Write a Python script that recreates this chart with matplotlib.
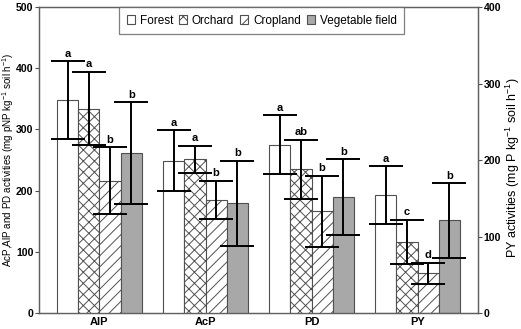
import numpy as np
import matplotlib
matplotlib.use("Agg")
import matplotlib.pyplot as plt

plt.rcParams['font.family'] = ['Liberation Sans', 'DejaVu Sans']
plt.rcParams['mathtext.fontset'] = 'custom'
plt.rcParams['mathtext.rm'] = 'Liberation Sans'

# enzyme groups and land uses
enzymes = ['AlP', 'AcP', 'PD', 'PY']
land_uses = ['Forest', 'Orchard', 'Cropland', 'Vegetable field']

# AlP, AcP, PD on left axis (mg pNP kg-1 soil h-1), rows = land use
left_means = {
    'Forest':          [348, 249, 275],
    'Orchard':         [334, 251, 235],
    'Cropland':        [216, 185, 166],
    'Vegetable field': [261, 179, 189],
}
left_sd = {
    'Forest':          [63, 50, 48],
    'Orchard':         [60, 22, 48],
    'Cropland':        [55, 31, 58],
    'Vegetable field': [83, 70, 62],
}
# PY on right axis (mg P kg-1 soil h-1)
py_means = [154, 93, 52, 121]
py_sd = [38, 29, 14, 49]

letters = {
    'Forest':          ['a', 'a', 'a', 'a'],
    'Orchard':         ['a', 'a', 'ab', 'c'],
    'Cropland':        ['b', 'b', 'b', 'd'],
    'Vegetable field': ['b', 'b', 'b', 'b'],
}

styles = {
    'Forest':          dict(facecolor='white', hatch=None),
    'Orchard':         dict(facecolor='white', hatch='xxx'),
    'Cropland':        dict(facecolor='white', hatch='///'),
    'Vegetable field': dict(facecolor='#a8a8a8', hatch=None),
}

plt.rcParams['hatch.linewidth'] = 0.7
edge = '#505050'

fig = plt.figure(figsize=(5.21, 3.29), dpi=100)
ax = fig.add_axes([0.0749, 0.0486, 0.8426, 0.9301])
ax2 = ax.twinx()

x = np.arange(len(enzymes))
w = 0.2
handles = []
for i, lu in enumerate(land_uses):
    xpos = x - 0.3 + i * w
    st = styles[lu]
    b = ax.bar(xpos[:3], left_means[lu], w, color=st['facecolor'], hatch=st['hatch'],
               edgecolor=edge, linewidth=0.8, label=lu, zorder=2)
    ax.errorbar(xpos[:3], left_means[lu], yerr=left_sd[lu], fmt='none', ecolor='black',
                elinewidth=1.4, capsize=12, capthick=1.4, zorder=3)
    ax2.bar(xpos[3], py_means[i], w, color=st['facecolor'], hatch=st['hatch'],
            edgecolor=edge, linewidth=0.8, zorder=2)
    ax2.errorbar(xpos[3], py_means[i], yerr=py_sd[i], fmt='none', ecolor='black',
                 elinewidth=1.4, capsize=12, capthick=1.4, zorder=3)
    for j in range(3):
        ax.text(xpos[j], left_means[lu][j] + left_sd[lu][j] + 4, letters[lu][j],
                ha='center', va='bottom', fontsize=8, fontweight='bold')
    ax2.text(xpos[3], py_means[i] + py_sd[i] + 3.2, letters[lu][3],
             ha='center', va='bottom', fontsize=8, fontweight='bold')
    handles.append(b)

ax.set_xlim(-0.57, 3.57)
ax.set_ylim(0, 500)
ax2.set_ylim(0, 400)
ax.set_yticks([0, 100, 200, 300, 400, 500])
ax2.set_yticks([0, 100, 200, 300, 400])
ax.set_xticks(x)
ax.set_xticklabels(enzymes, fontsize=8, fontweight='bold')
ax.tick_params(axis='x', length=0, pad=3)
ax.tick_params(axis='y', labelsize=7.6, length=3, width=0.8, color=edge, pad=1)
ax2.tick_params(axis='y', labelsize=7.6, length=3, width=0.8, color=edge, pad=1)
for lab in ax.get_yticklabels() + ax2.get_yticklabels():
    lab.set_fontweight('bold')
for a in (ax, ax2):
    for s in a.spines.values():
        s.set_color('#606060')
        s.set_linewidth(0.9)

fig.text(8 / 521, 0.515, 'AcP,AlP and PD activities (mg pNP kg$^{-1}$ soil h$^{-1}$)',
         rotation=90, ha='center', va='center', fontsize=7.1)
fig.text(513 / 521, 0.489, 'PY activities (mg P kg$^{-1}$ soil h$^{-1}$)',
         rotation=90, ha='center', va='center', fontsize=9)

leg = ax.legend(handles=handles, loc='upper left', bbox_to_anchor=(0.182, 1.0), ncol=4,
                fontsize=8.5, frameon=True, fancybox=False, borderaxespad=0,
                handlelength=0.7, handleheight=0.7, handletextpad=0.4, columnspacing=0.5,
                borderpad=0.65)
leg.get_frame().set_edgecolor('#606060')
leg.get_frame().set_linewidth(0.9)
leg.set_zorder(5)
ax.set_zorder(ax2.get_zorder() + 1)
ax.patch.set_visible(False)

fig.savefig('out.png', dpi=100)
